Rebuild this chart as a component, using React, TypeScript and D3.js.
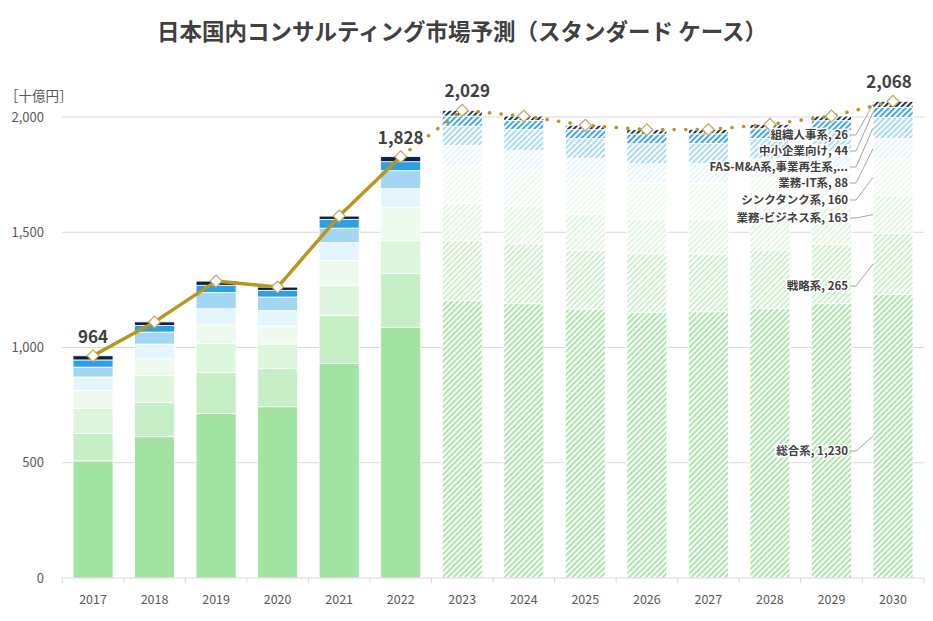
import React from "react";
import * as d3 from "d3";

// categories
const years = [2017, 2018, 2019, 2020, 2021, 2022, 2023, 2024, 2025, 2026, 2027, 2028, 2029, 2030];
const lastActual = 2022;

// series values (十億円), bottom to top of the stack
const sogo = [508, 613, 713, 743, 931, 1088, 1203, 1190, 1167, 1153, 1155, 1170, 1190, 1230];
const senryaku = [120, 149, 178, 165, 209, 234, 260, 260, 255, 254, 251, 253, 258, 265];
const gyomuBiz = [108, 116, 126, 107, 129, 141, 161, 161, 156, 150, 151, 153, 158, 163];
const thinkTank = [78, 73, 81, 78, 108, 145, 163, 159, 156, 154, 155, 157, 158, 160];
const gyomuIT = [58, 64, 70, 67, 78, 81, 89, 84, 87, 86, 86, 86, 87, 88];
const fasMA = [43, 52, 70, 59, 63, 78, 84, 91, 85, 87, 87, 88, 90, 92];
const smb = [31, 29, 32, 29, 38, 39, 44, 40, 39, 42, 42, 42, 43, 44];
const soshiki = [18, 15, 18, 14, 14, 22, 25, 19, 19, 19, 19, 19, 20, 26];

const seriesNames = [
  "総合系",
  "戦略系",
  "業務-ビジネス系",
  "シンクタンク系",
  "業務-IT系",
  "FAS-M&A系,事業再生系,...",
  "中小企業向け",
  "組織人事系",
];
const seriesValues = [sogo, senryaku, gyomuBiz, thinkTank, gyomuIT, fasMA, smb, soshiki];
const showValue = [true, true, true, true, true, false, true, true];

const yTicks = [0, 500, 1000, 1500, 2000];
const labelledYears = [2017, 2022, 2023, 2030];

// styles
const colors = ["#a2e3a2", "#c7efc7", "#ddf5dd", "#eefaee", "#e4f6fc", "#a2d6f3", "#2e9fe2", "#0b2244"];
const labelY = [451, 286, 218, 200, 183, 167, 151, 135];

const W = 933;
const H = 621;
const left = 62;
const right = 924;
const top = 117;
const bottom = 578;
const font = "'Noto Sans CJK JP', 'Noto Sans', sans-serif";
const textColor = "#404040";
const axisColor = "#595959";
const lineColor = "#b8961f";

export default function App() {
  const keys = seriesNames.map((_, i) => `s${i}`);
  const rows = years.map((year, j) => {
    const row: any = { year };
    seriesValues.forEach((vals, i) => (row[keys[i]] = vals[j]));
    return row;
  });
  const totals = years.map((_, j) => d3.sum(seriesValues, (vals) => vals[j]));

  const stacked = d3.stack<any>().keys(keys)(rows);

  const x = d3
    .scaleBand<number>()
    .domain(years)
    .range([left, right])
    .paddingInner(0.35)
    .paddingOuter(0.179);
  const y = d3.scaleLinear().domain([0, 2000]).range([bottom, top]);
  const bw = x.bandwidth();
  const cx = (yr: number) => (x(yr) as number) + bw / 2;
  const step = x.step();
  const boundaries = years.map((yr) => (x(yr) as number) - (step * 0.35) / 2);
  boundaries.push(right);

  const pts = years.map((yr, j) => [cx(yr), y(totals[j])] as [number, number]);
  const line = d3.line();
  const actualPts = pts.filter((_, j) => years[j] <= lastActual);
  const forecastPts = pts.filter((_, j) => years[j] >= lastActual);

  const diamond = d3.symbol(d3.symbolSquare, 70)();
  const fmt = d3.format(",");

  const lastIdx = years.length - 1;
  const lastX = x(years[lastIdx]) as number;
  const labelRight = 848;

  return (
    <div style={{ position: "absolute", left: 0, top: 0 }}>
      <svg width={W} height={H} style={{ display: "block", background: "#fff" }} fontFamily={font}>
        <defs>
          {colors.map((c, i) => (
            <pattern
              key={i}
              id={`hatch${i}`}
              patternUnits="userSpaceOnUse"
              width={4}
              height={4}
              patternTransform="rotate(45)"
            >
              <rect width={4} height={4} fill="#fff" />
              <rect width={1.8} height={4} fill={c} />
            </pattern>
          ))}
        </defs>

        <text x={462} y={40} textAnchor="middle" fontSize={22.5} fontWeight={700} fill={textColor}>
          日本国内コンサルティング市場予測（スタンダード ケース）
        </text>

        <text x={5} y={101} fontSize={13.5} fill={axisColor}>
          ［十億円］
        </text>

        {/* gridlines and y labels */}
        {yTicks.map((t) => (
          <g key={t}>
            {t > 0 && <line x1={left} x2={right} y1={y(t)} y2={y(t)} stroke="#d9d9d9" strokeWidth={1} />}
            <text x={44} y={y(t)} dy="0.35em" textAnchor="end" fontSize={13} fill={axisColor}>
              {fmt(t)}
            </text>
          </g>
        ))}

        {/* bars */}
        {stacked.map((s, i) => (
          <g key={s.key}>
            {s.map((d, j) => (
              <rect
                key={j}
                x={x(years[j])}
                y={y(d[1])}
                width={bw}
                height={y(d[0]) - y(d[1])}
                fill={years[j] > lastActual ? `url(#hatch${i})` : colors[i]}
                stroke="#fff"
                strokeWidth={0.8}
              />
            ))}
          </g>
        ))}

        {/* x axis */}
        <line x1={left} x2={right} y1={bottom} y2={bottom} stroke="#d9d9d9" strokeWidth={1} />
        {boundaries.map((b, i) => (
          <line key={i} x1={b} x2={b} y1={bottom} y2={bottom + 5} stroke="#d9d9d9" strokeWidth={1} />
        ))}
        {years.map((yr) => (
          <text key={yr} x={cx(yr)} y={600} dy="0.35em" textAnchor="middle" fontSize={12.5} fill={axisColor}>
            {yr}
          </text>
        ))}

        {/* total line */}
        <path d={line(actualPts) as string} fill="none" stroke={lineColor} strokeWidth={3.5} strokeLinejoin="round" />
        <path
          d={line(forecastPts) as string}
          fill="none"
          stroke={lineColor}
          strokeWidth={3.6}
          strokeLinecap="round"
          strokeDasharray="0.1 11.5"
        />
        {pts.map((p, j) => (
          <path
            key={j}
            d={diamond as string}
            transform={`translate(${p[0]},${p[1]}) rotate(45)`}
            fill="#fff"
            stroke="#c2a55a"
            strokeWidth={1.2}
          />
        ))}
        {years.map((yr, j) =>
          labelledYears.includes(yr) ? (
            <text
              key={yr}
              x={pts[j][0] + (yr === 2023 ? 5 : yr === 2030 ? -4 : 0)}
              y={pts[j][1] - 13}
              textAnchor="middle"
              fontSize={17}
              fontWeight={700}
              fill={textColor}
            >
              {fmt(totals[j])}
            </text>
          ) : null
        )}

        {/* series labels on the last bar */}
        {stacked.map((s, i) => {
          const d = s[lastIdx];
          const mid = y((d[0] + d[1]) / 2);
          const ly = labelY[i];
          const txt = showValue[i] ? `${seriesNames[i]}, ${fmt(seriesValues[i][lastIdx])}` : seriesNames[i];
          return (
            <g key={s.key}>
              <polyline
                points={`${labelRight + 2},${ly} ${labelRight + 8},${ly} ${lastX},${mid}`}
                fill="none"
                stroke="#a6a6a6"
                strokeWidth={1}
              />
              <text
                x={labelRight}
                y={ly}
                dy="0.35em"
                textAnchor="end"
                fontSize={11.5}
                fontWeight={700}
                fill={textColor}
                stroke="#fff"
                strokeWidth={3}
                paintOrder="stroke"
              >
                {txt}
              </text>
            </g>
          );
        })}
      </svg>
    </div>
  );
}
